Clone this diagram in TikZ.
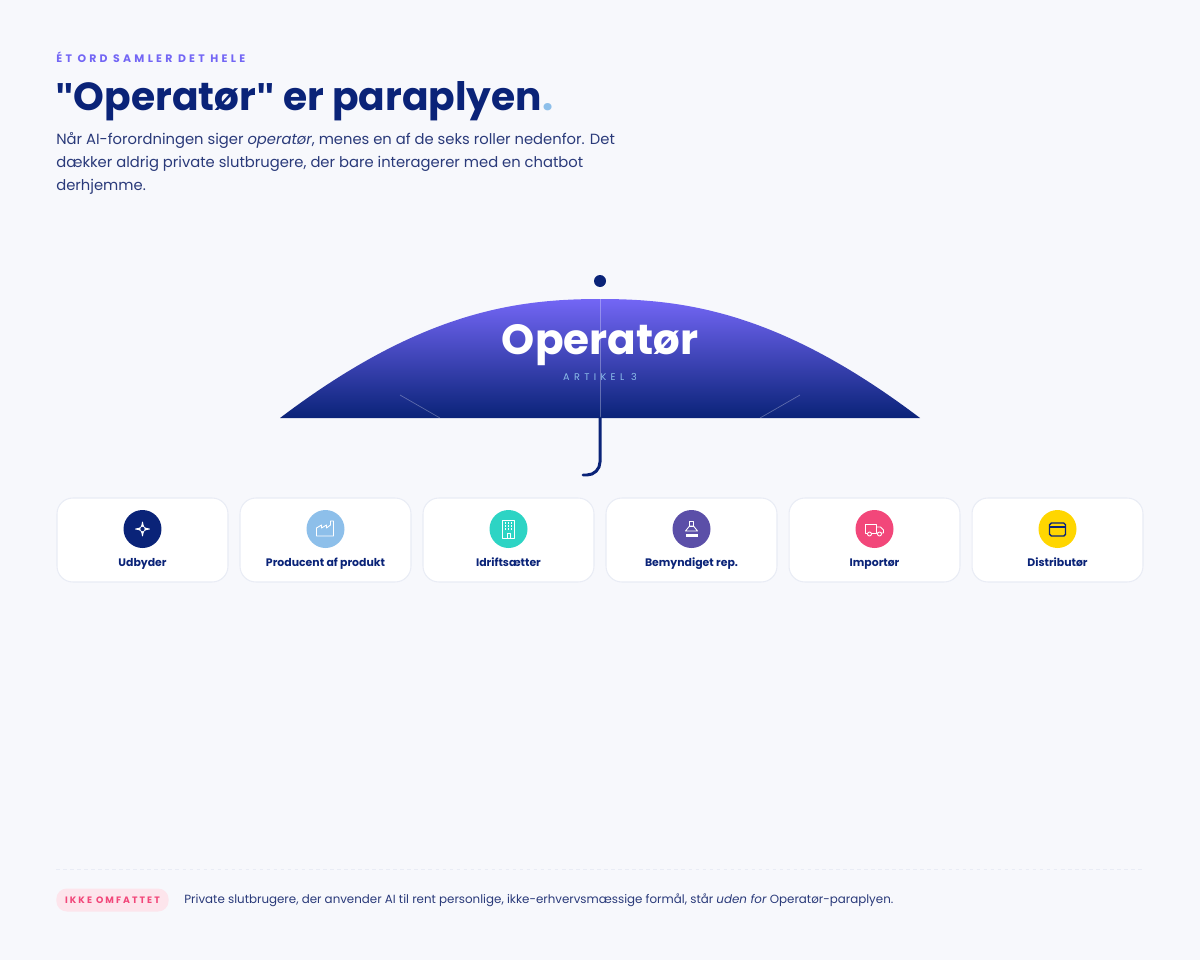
\documentclass[tikz,border=0pt]{standalone}
\usepackage{fontspec}
\setmainfont{Poppins}
\newfontfamily\spaced[LetterSpace=30]{Poppins}
\newfontfamily\spacedbadge[LetterSpace=22]{Poppins}
\newfontfamily\spacedwide[LetterSpace=45]{Poppins}
\newfontfamily\quotefont{Liberation Sans}
\newcommand\straightquote{{\quotefont\bfseries\symbol{34}}}
\usetikzlibrary{positioning,calc}
\definecolor{bgpage}{HTML}{F7F8FC}
\definecolor{navy}{HTML}{0A2378}
\definecolor{violet}{HTML}{7366F5}
\definecolor{bodytext}{HTML}{2A3A7A}
\definecolor{skyblue}{HTML}{8DBFEA}
\definecolor{teal}{HTML}{2DD4C4}
\definecolor{plum}{HTML}{5B4FA8}
\definecolor{rose}{HTML}{F2477A}
\definecolor{sun}{HTML}{FFD600}
\definecolor{cardline}{HTML}{E9ECF5}
\tikzset{
rolecard/.style={draw=cardline,fill=white,rounded corners=9pt,line width=0.6pt,minimum width=3.42cm,minimum height=1.68cm,inner sep=0pt},
roleicon/.style={circle,minimum size=0.76cm,inner sep=0pt},
rolelabel/.style={anchor=base,inner sep=0pt,font=\bfseries\fontsize{6.2}{7}\selectfont,text=navy},
glyph/.style={draw=white,line width=0.5pt,line join=round},
rib/.style={draw=white,opacity=.3,line width=0.4pt},
}
\begin{document}
\begin{tikzpicture}[x=0.02cm,y=-0.02cm]
\fill[bgpage] (0,0) rectangle (1200,960);
\useasboundingbox (0,0) rectangle (1200,960);
% heading
\node[anchor=west,inner sep=0pt,text=violet,font=\spaced\bfseries\fontsize{6.2}{7}\selectfont] (kicker) at (56,57) {ÉT ORD SAMLER DET HELE};
\node[anchor=west,inner sep=0pt,text=navy,font=\bfseries\fontsize{22.3}{26}\selectfont] (title) at (55,101) {\straightquote Operatør\straightquote{} er paraplyen\textcolor{skyblue}{.}};
\node[anchor=north west,inner sep=0pt,text=bodytext,align=left,font=\fontsize{8.4}{13}\selectfont] (intro) at (56,132)
{Når AI-forordningen siger \textit{operatør}, menes en af de seks roller nedenfor. Det\\
dækker aldrig private slutbrugere, der bare interagerer med en chatbot\\
derhjemme.};
% umbrella
\shade[top color=violet,bottom color=navy]
(280,418) .. controls (420,312) and (515,299) .. (600,299)
.. controls (685,299) and (780,312) .. (920,418) -- cycle;
\draw[rib] (600,299) -- (600,418);
\draw[rib] (400,395) -- (440,418);
\draw[rib] (800,395) -- (760,418);
\fill[navy] (600,281) circle (6);
\draw[navy,line width=1.7pt,line cap=round] (600,418) -- (600,462) arc[start angle=0,end angle=90,radius=13] -- (583,475);
\node[text=white,font=\bfseries\fontsize{24}{28}\selectfont] (umbrella) at (600,345) {Operatør};
\node[text=skyblue,font=\spacedwide\fontsize{5.5}{6}\selectfont] (article) at (600,377) {ARTIKEL 3};
% role cards
\foreach \i/\col/\name in {0/navy/Udbyder,1/skyblue/Producent af produkt,2/teal/Idriftsætter,3/plum/Bemyndiget rep.,4/rose/Importør,5/sun/Distributør}{
  \node[rolecard] (card\i) at ({142.5+183*\i},540) {};
  \node[roleicon,fill=\col] (icon\i) at ({142.5+183*\i},529) {};
  \node[rolelabel] (label\i) at ({142.5+183*\i},566) {\name};
}
% icon glyphs
\draw[glyph,fill=white] ($(icon0)+(0,-7)$) .. controls ($(icon0)+(1,-1)$) .. ($(icon0)+(7,0)$) .. controls ($(icon0)+(1,1)$) .. ($(icon0)+(0,7)$) .. controls ($(icon0)+(-1,1)$) .. ($(icon0)+(-7,0)$) .. controls ($(icon0)+(-1,-1)$) .. cycle;
\fill[navy] (icon0) circle (2.2);
\draw[glyph] ($(icon1)+(-9,7)$) -- ($(icon1)+(-9,-1)$) -- ($(icon1)+(-4,-4)$) -- ($(icon1)+(-4,-1)$) -- ($(icon1)+(1,-4)$) -- ($(icon1)+(1,-1)$) -- ($(icon1)+(5,-4)$) -- ($(icon1)+(5,-8)$) -- ($(icon1)+(8,-8)$) -- ($(icon1)+(8,7)$) -- cycle;
\draw[glyph] ($(icon2)+(-6,-9)$) rectangle ($(icon2)+(6,9)$);
\foreach \dx in {-3,0,3}{\foreach \dy in {-6,-3,0}{\fill[white] ($(icon2)+(\dx,\dy)+(-0.8,-0.8)$) rectangle ++(1.6,1.6);}}
\draw[glyph] ($(icon2)+(-1.5,9)$) rectangle ($(icon2)+(1.5,4)$);
\draw[glyph] ($(icon3)+(-2,-8)$) rectangle ($(icon3)+(2,-3)$);
\draw[glyph] ($(icon3)+(-6,2)$) -- ($(icon3)+(-2,-3)$) -- ($(icon3)+(2,-3)$) -- ($(icon3)+(6,2)$) -- cycle;
\fill[white] ($(icon3)+(-6,5)$) rectangle ($(icon3)+(6,7.5)$);
\draw[glyph] ($(icon4)+(-9,-5)$) rectangle ($(icon4)+(2,4)$);
\draw[glyph] ($(icon4)+(2,-2)$) -- ($(icon4)+(6,-2)$) -- ($(icon4)+(9,1)$) -- ($(icon4)+(9,4)$) -- ($(icon4)+(2,4)$);
\draw[glyph,fill=rose] ($(icon4)+(-5,5)$) circle (2) ($(icon4)+(5,5)$) circle (2);
\draw[navy,line width=0.8pt,rounded corners=1pt] ($(icon5)+(-8,-6)$) rectangle ($(icon5)+(8,7)$);
\draw[navy,line width=0.8pt] ($(icon5)+(-8,-2)$) -- ($(icon5)+(8,-2)$);
% footer
\draw[cardline,dash pattern=on 2pt off 2pt,line width=0.5pt] (56,869) -- (1144,869);
\node[anchor=west,fill=rose!14,text=rose,rounded corners=6pt,inner xsep=5pt,minimum height=0.46cm,font=\spacedbadge\bfseries\fontsize{5.3}{6}\selectfont] (badge) at (56,900) {IKKE OMFATTET};
\node[anchor=west,inner sep=0pt,text=bodytext,font=\fontsize{6.75}{8}\selectfont] (note) at (184,900)
{Private slutbrugere, der anvender AI til rent personlige, ikke-erhvervsmæssige formål, står \textit{uden for} Operatør-paraplyen.};
\end{tikzpicture}
\end{document}
